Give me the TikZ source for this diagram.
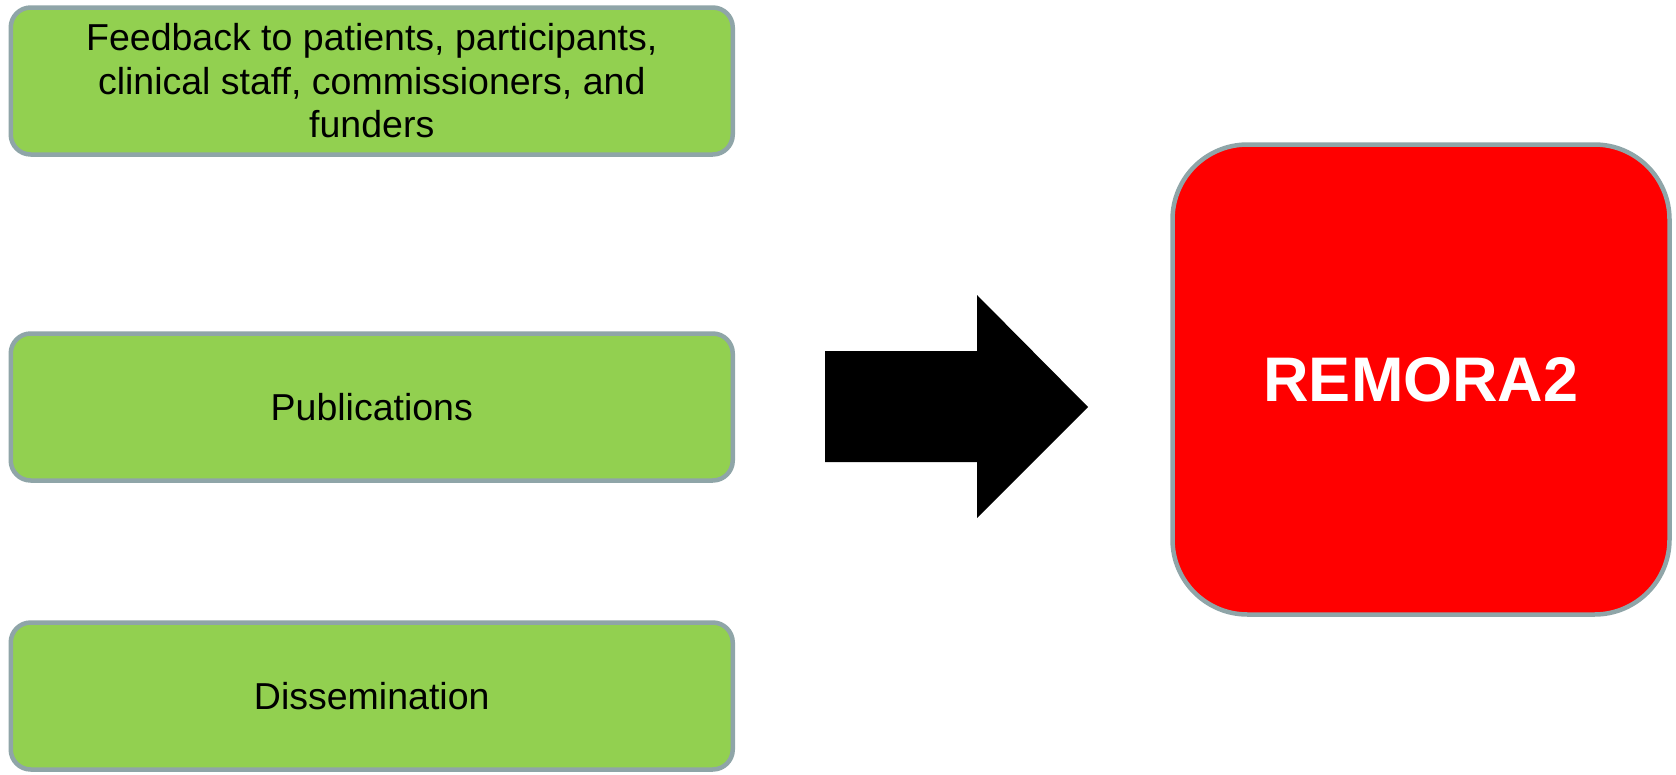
\documentclass[tikz,border=0pt]{standalone}
\usepackage{fontspec}
\setmainfont{Liberation Sans}
\definecolor{leafgreen}{HTML}{92D050}
\definecolor{slateedge}{HTML}{8FA5A8}

\begin{document}
\begin{tikzpicture}[x=1pt,y=-1pt,
  greenbox/.style={draw=slateedge, line width=4.5pt, fill=leafgreen, rounded corners=20pt,
    minimum width=722pt, minimum height=147pt, align=center,
    font=\fontsize{37.5}{43.5}\selectfont},
  redbox/.style={draw=slateedge, line width=4.5pt, fill=red, rounded corners=75pt,
    minimum width=497pt, minimum height=470pt, text=white,
    font=\fontsize{63}{70}\selectfont\bfseries}]
\useasboundingbox (0,0) rectangle (1676,774);
\node[greenbox] (feedback) at (371.75,81) {Feedback to patients, participants,\\clinical staff, commissioners, and\\funders};
\node[greenbox] (pubs) at (371.75,407) {Publications};
\node[greenbox] (dissem) at (371.75,696) {Dissemination};
\node[redbox] (remora) at (1421,379.5) {REMORA2};
\fill[black] (825,351) -- (977,351) -- (977,295) -- (1088,407) -- (977,518) -- (977,462) -- (825,462) -- cycle;
\end{tikzpicture}
\end{document}
